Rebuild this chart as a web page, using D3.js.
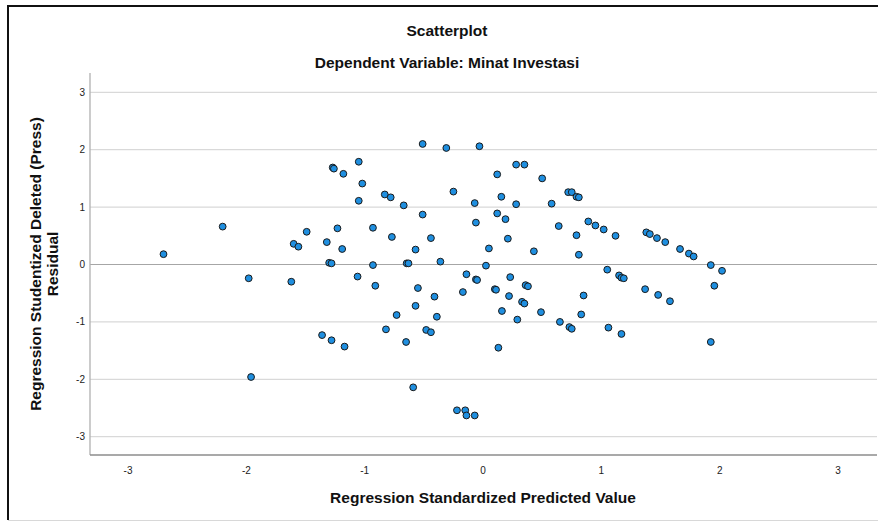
<!DOCTYPE html>
<html>
<head>
<meta charset="utf-8">
<script src="https://cdn.jsdelivr.net/npm/d3@7/dist/d3.min.js"></script>
<style>
  html, body { margin: 0; padding: 0; background: #fff; }
  svg { display: block; font-family: "Liberation Sans", Arial, sans-serif; }
</style>
</head>
<body>
<svg id="chart" width="878" height="522"></svg>
<script>
// Regression diagnostics: standardized predicted value vs. studentized deleted (press) residual
const predicted = [
  -2.70, -2.20, -1.98, -1.96, -1.62, -1.60, -1.56, -1.49, -1.36, -1.32,
  -1.30, -1.28, -1.28, -1.27, -1.26, -1.23, -1.19, -1.18, -1.17, -1.06,
  -1.05, -1.05, -1.02, -0.93, -0.93, -0.91, -0.83, -0.82, -0.78, -0.77,
  -0.73, -0.67, -0.65, -0.645, -0.63, -0.57, -0.57, -0.59, -0.55, -0.51,
  -0.51, -0.48, -0.44, -0.44, -0.41, -0.39, -0.36, -0.31, -0.25, -0.22,
  -0.17, -0.15, -0.14, -0.14, -0.07, -0.07, -0.06, -0.06, -0.05, -0.03,
  0.025, 0.05, 0.10, 0.11, 0.12, 0.12, 0.13, 0.155, 0.16, 0.19,
  0.21, 0.22, 0.23, 0.28, 0.28, 0.29, 0.33, 0.35, 0.35, 0.36,
  0.38, 0.43, 0.49, 0.50, 0.58, 0.64, 0.65, 0.72, 0.73, 0.75,
  0.75, 0.79, 0.79, 0.81, 0.81, 0.83, 0.85, 0.89, 0.95, 1.02,
  1.05, 1.06, 1.12, 1.15, 1.17, 1.17, 1.19, 1.37, 1.38, 1.41,
  1.47, 1.48, 1.54, 1.58, 1.665, 1.74, 1.78, 1.925, 1.925, 1.955,
  2.02
];
const residual = [
  0.18, 0.66, -0.24, -1.96, -0.30, 0.36, 0.31, 0.57, -1.23, 0.39,
  0.03, 0.02, -1.32, 1.69, 1.67, 0.63, 0.27, 1.58, -1.43, -0.21,
  1.79, 1.11, 1.41, 0.64, -0.01, -0.37, 1.22, -1.13, 1.17, 0.48,
  -0.88, 1.03, -1.35, 0.02, 0.02, 0.26, -0.72, -2.14, -0.41, 2.10,
  0.87, -1.14, 0.46, -1.18, -0.56, -0.91, 0.05, 2.03, 1.27, -2.54,
  -0.48, -2.54, -0.17, -2.63, 1.07, -2.63, 0.73, -0.26, -0.27, 2.06,
  -0.02, 0.28, -0.43, -0.44, 1.57, 0.89, -1.45, 1.18, -0.81, 0.79,
  0.45, -0.55, -0.22, 1.05, 1.74, -0.96, -0.65, 1.74, -0.68, -0.36,
  -0.38, 0.23, -0.83, 1.50, 1.06, 0.67, -1.00, 1.26, -1.09, 1.26,
  -1.12, 1.18, 0.51, 1.17, 0.17, -0.87, -0.54, 0.75, 0.68, 0.61,
  -0.09, -1.10, 0.50, -0.19, -0.23, -1.21, -0.24, -0.43, 0.56, 0.53,
  0.46, -0.53, 0.39, -0.64, 0.27, 0.19, 0.14, -0.01, -1.35, -0.37,
  -0.11
];
const xTicks = [-3, -2, -1, 0, 1, 2, 3];
const yTicks = [-3, -2, -1, 0, 1, 2, 3];

const chartTitle = "Scatterplot";
const chartSubtitle = "Dependent Variable: Minat Investasi";
const xTitle = "Regression Standardized Predicted Value";
const yTitleLines = ["Regression Studentized Deleted (Press)", "Residual"];

const points = predicted.map((p, i) => ({ p, r: residual[i] }));

const svg = d3.select("#chart");

// Plot frame
const plot = { left: 90, right: 877, top: 73, bottom: 455 };
const x = d3.scaleLinear().domain([-3, 3]).range([128, 838]);
const y = d3.scaleLinear().domain([-3, 3]).range([436.7, 92.3]);

const titleSize = 15.5;

// Outer border of the chart panel
svg.append("line").attr("x1", 8).attr("x2", 8).attr("y1", 5).attr("y2", 520)
  .attr("stroke", "#111").attr("stroke-width", 2);
svg.append("line").attr("x1", 7).attr("x2", 878).attr("y1", 6).attr("y2", 6)
  .attr("stroke", "#111").attr("stroke-width", 2);
svg.append("line").attr("x1", 8).attr("x2", 878).attr("y1", 520.5).attr("y2", 520.5)
  .attr("stroke", "#d8d8d8").attr("stroke-width", 1);

// Horizontal grid lines
svg.append("g").selectAll("line")
  .data(yTicks.filter(t => t !== 0))
  .join("line")
  .attr("x1", plot.left).attr("x2", plot.right)
  .attr("y1", d => y(d)).attr("y2", d => y(d))
  .attr("stroke", "#d9d9d9").attr("stroke-width", 1.3);

// Zero reference line
svg.append("line")
  .attr("x1", plot.left).attr("x2", plot.right)
  .attr("y1", y(0)).attr("y2", y(0))
  .attr("stroke", "#a6a6a6").attr("stroke-width", 1);

// Axes lines
svg.append("line").attr("x1", plot.left).attr("x2", plot.left)
  .attr("y1", plot.top).attr("y2", plot.bottom)
  .attr("stroke", "#b0b0b0").attr("stroke-width", 1.3);
svg.append("line").attr("x1", plot.left).attr("x2", plot.right)
  .attr("y1", plot.bottom).attr("y2", plot.bottom)
  .attr("stroke", "#8c8c8c").attr("stroke-width", 1.3);

// Tick labels
svg.append("g").selectAll("text")
  .data(yTicks).join("text")
  .attr("x", 85).attr("y", d => y(d)).attr("dy", "0.35em")
  .attr("text-anchor", "end").attr("font-size", 10).attr("fill", "#222")
  .text(d => d3.format("d")(d).replace("−", "-"));
svg.append("g").selectAll("text")
  .data(xTicks).join("text")
  .attr("x", d => x(d)).attr("y", 474)
  .attr("text-anchor", "middle").attr("font-size", 10).attr("fill", "#222")
  .text(d => d3.format("d")(d).replace("−", "-"));

// Titles
svg.append("text").attr("x", 447).attr("y", 36).attr("text-anchor", "middle")
  .attr("font-size", titleSize).attr("font-weight", "bold").attr("fill", "#111").text(chartTitle);
svg.append("text").attr("x", 447).attr("y", 68).attr("text-anchor", "middle")
  .attr("font-size", titleSize).attr("font-weight", "bold").attr("fill", "#111").text(chartSubtitle);
svg.append("text").attr("x", 483).attr("y", 503).attr("text-anchor", "middle")
  .attr("font-size", titleSize).attr("font-weight", "bold").attr("fill", "#111").text(xTitle);
const yt = svg.append("text")
  .attr("transform", "translate(0,264) rotate(-90)")
  .attr("text-anchor", "middle").attr("font-size", titleSize).attr("font-weight", "bold").attr("fill", "#111");
yt.selectAll("tspan").data(yTitleLines).join("tspan")
  .attr("x", 0).attr("y", (d, i) => 41 + i * 17).text(d => d);

// Points
svg.append("g").selectAll("circle")
  .data(points).join("circle")
  .attr("cx", d => x(d.p)).attr("cy", d => y(d.r)).attr("r", 3.4)
  .attr("fill", "#1f8fe0").attr("stroke", "#1a1a1a").attr("stroke-width", 1);
</script>
</body>
</html>
